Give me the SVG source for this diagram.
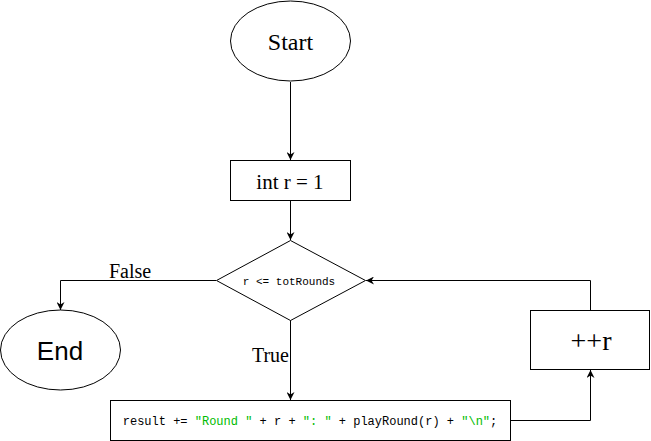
<svg xmlns="http://www.w3.org/2000/svg" width="651" height="441" viewBox="0 0 651 441">
<style>
.s{fill:#fff;stroke:#000;stroke-width:1}
.c{fill:none;stroke:#000;stroke-width:1}
.serif{font-family:"Liberation Serif","Times New Roman",serif;fill:#000}
.sans{font-family:"Liberation Sans",Arial,sans-serif;fill:#000}
.mono{font-family:"Liberation Mono","Courier New",monospace;fill:#000}
.g{fill:#00bb00}
</style>
<defs>
<marker id="a" viewBox="0 0 10 10" refX="10" refY="5" markerWidth="8" markerHeight="8" markerUnits="userSpaceOnUse" orient="auto">
<path d="M0,0 L10,5 L0,10 L3,5 Z" fill="#000"/>
</marker>
</defs>
<rect width="651" height="441" fill="#fff"/>
<g id="connectors">
<path class="c" d="M290.5,82 L290.5,160" marker-end="url(#a)"/>
<path class="c" d="M290.5,201 L290.5,240" marker-end="url(#a)"/>
<path class="c" d="M216,280.5 L60.5,280.5 L60.5,310" marker-end="url(#a)"/>
<path class="c" d="M290.5,320 L290.5,400" marker-end="url(#a)"/>
<path class="c" d="M510,420.5 L590.5,420.5 L590.5,370" marker-end="url(#a)"/>
<path class="c" d="M590.5,310 L590.5,280.5 L366,280.5" marker-end="url(#a)"/>
<text class="serif" x="130" y="278" font-size="20" text-anchor="middle">False</text>
<text class="serif" x="289" y="362" font-size="20" text-anchor="end">True</text>
</g>
<g id="start">
<ellipse class="s" cx="290.5" cy="41" rx="60" ry="40"/>
<text class="serif" x="290.5" y="50" font-size="24" text-anchor="middle">Start</text>
</g>
<g id="init">
<rect class="s" x="230.5" y="160.5" width="120" height="40"/>
<text class="serif" x="290" y="188.5" font-size="21" text-anchor="middle">int r = 1</text>
</g>
<g id="cond">
<path class="s" d="M290.5,240.5 L365.5,280.5 L290.5,320.5 L216.5,280.5 Z"/>
<text class="mono" x="289" y="285" font-size="11" text-anchor="middle">r &lt;= totRounds</text>
</g>
<g id="end">
<ellipse class="s" cx="60.5" cy="350" rx="60" ry="40"/>
<text class="sans" x="60" y="360" font-size="26" text-anchor="middle">End</text>
</g>
<g id="body">
<rect class="s" x="110.5" y="400.5" width="400" height="40"/>
<text class="mono" x="310" y="425" font-size="12" text-anchor="middle" xml:space="preserve">result += <tspan class="g">"Round "</tspan> + r + <tspan class="g">": "</tspan> + playRound(r) + <tspan class="g">"\n"</tspan>;</text>
</g>
<g id="inc">
<rect class="s" x="530.5" y="310.5" width="119" height="59"/>
<text class="serif" x="591" y="350" font-size="28" text-anchor="middle">++r</text>
</g>
</svg>
